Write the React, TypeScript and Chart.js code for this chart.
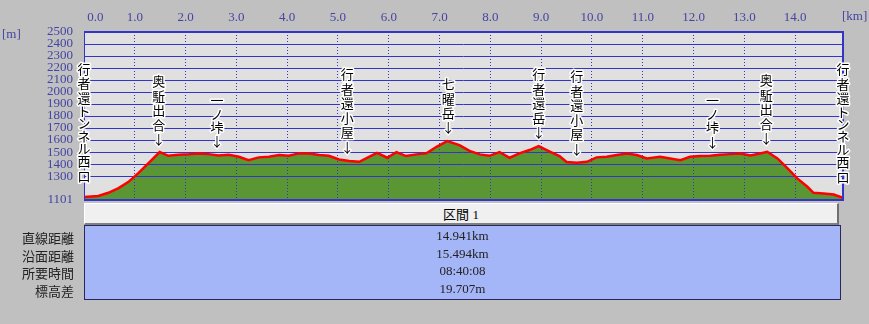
import React, { useEffect, useRef } from 'react';
import { Chart, registerables } from 'chart.js';

// ---------- data ----------
const distanceKm = [0.0, 0.28, 0.48, 0.68, 0.87, 1.07, 1.27, 1.49, 1.66, 1.86, 2.06, 2.26, 2.45, 2.65, 2.85, 3.05, 3.24, 3.44, 3.64, 3.84, 4.03, 4.23, 4.43, 4.63, 4.82, 5.02, 5.22, 5.42, 5.61, 5.77, 5.97, 6.15, 6.34, 6.54, 6.74, 6.94, 7.15, 7.39, 7.59, 7.79, 7.98, 8.18, 8.38, 8.57, 8.77, 8.95, 9.17, 9.36, 9.50, 9.70, 9.90, 10.09, 10.29, 10.49, 10.69, 10.88, 11.08, 11.34, 11.54, 11.74, 11.93, 12.13, 12.33, 12.52, 12.72, 12.92, 13.12, 13.31, 13.45, 13.65, 13.85, 14.04, 14.24, 14.36, 14.56, 14.76, 14.941];
const elevationM = [1125, 1135, 1161, 1200, 1250, 1325, 1408, 1500, 1469, 1477, 1481, 1489, 1483, 1472, 1477, 1461, 1433, 1456, 1461, 1475, 1469, 1489, 1489, 1475, 1469, 1439, 1425, 1419, 1461, 1494, 1453, 1500, 1467, 1481, 1489, 1544, 1592, 1558, 1510, 1481, 1469, 1500, 1453, 1489, 1517, 1550, 1503, 1467, 1417, 1411, 1419, 1456, 1461, 1475, 1489, 1475, 1447, 1461, 1447, 1433, 1461, 1467, 1469, 1477, 1483, 1489, 1472, 1489, 1503, 1447, 1364, 1281, 1211, 1161, 1155, 1147, 1119];

const xTickValues = [0, 1, 2, 3, 4, 5, 6, 7, 8, 9, 10, 11, 12, 13, 14];
const yTickValues = [1101, 1300, 1400, 1500, 1600, 1700, 1800, 1900, 2000, 2100, 2200, 2300, 2400, 2500];
const xMin = 0;
const xMax = 14.941;
const yMin = 1101;
const yMax = 2500;

const waypointNames = ['行者還トンネル西口', '奥駈出合', '一ノ垰', '行者還小屋', '七曜岳', '行者還岳', '行者還小屋', '一ノ垰', '奥駈出合', '行者還トンネル西口'];
const waypointKm = [0, 1.47, 2.62, 5.18, 7.17, 8.95, 9.7, 12.37, 13.43, 14.941];

const sectionTitle = '区間 1';
const summaryLabels = ['直線距離', '沿面距離', '所要時間', '標高差'];
const summaryValues = ['14.941km', '15.494km', '08:40:08', '19.707m'];

// ---------- styles ----------
const BLUE = '#3434c8';
const TICK_BLUE = '#4444a4';
const SERIF = '"Liberation Serif", "DejaVu Serif", serif';
const CJK = '"Noto Sans CJK JP", "Noto Sans", sans-serif';

function elevAt(km: number): number {
  for (let i = 0; i < distanceKm.length - 1; i++) {
    if (km >= distanceKm[i] && km <= distanceKm[i + 1]) {
      const t = (km - distanceKm[i]) / (distanceKm[i + 1] - distanceKm[i] || 1);
      return elevationM[i] + t * (elevationM[i + 1] - elevationM[i]);
    }
  }
  return km <= distanceKm[0] ? elevationM[0] : elevationM[elevationM.length - 1];
}

const plotBgPlugin = {
  id: 'plotBg',
  beforeDraw(chart: any) {
    const { ctx, chartArea } = chart;
    if (!chartArea) return;
    ctx.save();
    ctx.fillStyle = '#e0e0e0';
    ctx.fillRect(chartArea.left, chartArea.top, chartArea.right - chartArea.left, chartArea.bottom - chartArea.top);
    ctx.restore();
  },
};

// register background first so it paints before the filler's beforeDraw fill
Chart.register(plotBgPlugin);
Chart.register(...registerables);

const frameAndLabelsPlugin = {
  id: 'frameAndLabels',
  afterDraw(chart: any) {
    const { ctx, chartArea, scales } = chart;
    const x = scales.x;
    const y = scales.y;
    ctx.save();
    // frame
    ctx.strokeStyle = BLUE;
    ctx.lineWidth = 2;
    ctx.beginPath();
    ctx.moveTo(chartArea.left, chartArea.top);
    ctx.lineTo(chartArea.right, chartArea.top);
    ctx.lineTo(chartArea.right, chartArea.bottom);
    ctx.lineTo(chartArea.left, chartArea.bottom);
    ctx.stroke();
    ctx.lineWidth = 1;
    ctx.beginPath();
    ctx.moveTo(chartArea.left + 0.5, chartArea.top);
    ctx.lineTo(chartArea.left + 0.5, chartArea.bottom);
    ctx.stroke();

    // waypoint labels (vertical text)
    ctx.font = '13px ' + CJK;
    ctx.textAlign = 'center';
    ctx.textBaseline = 'middle';
    ctx.lineJoin = 'round';
    const last = waypointNames.length - 1;
    waypointNames.forEach((name, i) => {
      const km = waypointKm[i];
      const px = x.getPixelForValue(km);
      const py = y.getPixelForValue(elevAt(km));
      const edge = i === 0 || i === last;
      const chars = edge ? Array.from(name) : [...Array.from(name), '↓'];
      const steps = chars.map((c) => (c === '↓' ? 14 : /[\u30A0-\u30FF]/.test(c) ? 12.3 : 14.5));
      let bottom = py - (edge ? 14 : 7);
      for (let k = chars.length - 1; k >= 0; k--) {
        const h = steps[k];
        const cy = bottom - h / 2;
        ctx.strokeStyle = '#ffffff';
        ctx.lineWidth = 3;
        ctx.strokeText(chars[k], px, cy);
        ctx.fillStyle = '#000000';
        ctx.fillText(chars[k], px, cy);
        bottom -= h;
      }
    });
    ctx.restore();
  },
};

export default function App() {
  const canvasRef = useRef<HTMLCanvasElement | null>(null);

  useEffect(() => {
    const canvas = canvasRef.current;
    if (!canvas) return;
    const points = distanceKm.map((d, i) => ({ x: d, y: elevationM[i] }));
    const chart = new Chart(canvas, {
      type: 'line',
      data: {
        datasets: [
          {
            data: points,
            borderColor: '#ff0000',
            borderWidth: 2.5,
            backgroundColor: '#5a9634',
            fill: 'start',
            pointRadius: 0,
            tension: 0,
          },
        ],
      },
      options: {
        animation: false,
        responsive: false,
        maintainAspectRatio: false,
        devicePixelRatio: 1,
        layout: { padding: { left: 0, top: 0, right: 26, bottom: 124 } },
        plugins: {
          legend: { display: false },
          tooltip: { enabled: false },
          filler: { drawTime: 'beforeDraw' },
        } as any,
        scales: {
          x: {
            type: 'linear',
            position: 'top',
            min: xMin,
            max: xMax,
            afterBuildTicks: (s: any) => {
              s.ticks = xTickValues.map((v) => ({ value: v }));
            },
            afterFit: (s: any) => {
              s.height = 32;
            },
            grid: { color: BLUE, drawTicks: false, lineWidth: 1 },
            border: { display: false, dash: [1, 2] },
            ticks: {
              padding: 7,
              color: TICK_BLUE,
              font: { family: SERIF, size: 13 },
              maxRotation: 0,
              autoSkip: false,
              callback: (v: any) => (Number(v) === 0 ? '       0.0' : Number(v).toFixed(1)),
            },
          },
          y: {
            type: 'linear',
            min: yMin,
            max: yMax,
            afterBuildTicks: (s: any) => {
              s.ticks = yTickValues.map((v) => ({ value: v }));
            },
            afterFit: (s: any) => {
              s.width = 84;
            },
            grid: { color: BLUE, drawTicks: false, lineWidth: 1 },
            border: { display: false },
            ticks: {
              padding: 11,
              color: TICK_BLUE,
              font: { family: SERIF, size: 13 },
              autoSkip: false,
              callback: (v: any) => String(v),
            },
          },
        },
      },
      plugins: [frameAndLabelsPlugin],
    } as any);
    return () => chart.destroy();
  }, []);

  const rowTop = 228;
  const rowH = 17.5;

  return (
    <div style={{ position: 'absolute', left: 0, top: 0, width: 869, height: 324, background: '#c0c0c0', overflow: 'hidden' }}>
      <canvas ref={canvasRef} width={869} height={324} style={{ position: 'absolute', left: 0, top: 0, width: 869, height: 324 }} />
      <div style={{ position: 'absolute', left: 2, top: 27, font: `13px ${SERIF}`, color: TICK_BLUE, lineHeight: '14px' }}>[m]</div>
      <div style={{ position: 'absolute', left: 842, top: 9, font: `13px ${SERIF}`, color: TICK_BLUE, lineHeight: '14px' }}>[km]</div>
      <div
        style={{
          position: 'absolute', left: 84, top: 203, width: 755, height: 22, boxSizing: 'border-box',
          background: '#f0f0f0', borderTop: '1px solid #ffffff', borderLeft: '1px solid #ffffff',
          borderRight: '2px solid #707070', borderBottom: '2px solid #808080',
          textAlign: 'center', font: `13px ${SERIF}`, lineHeight: '20px', color: '#000',
        }}
      >
        <span style={{ fontFamily: CJK }}>{sectionTitle.split(' ')[0]}</span> {sectionTitle.split(' ')[1]}
      </div>
      <div
        style={{
          position: 'absolute', left: 84, top: 225, width: 757, height: 75, boxSizing: 'border-box',
          background: '#a4b6f8', border: '1px solid #28285a',
        }}
      />
      {summaryLabels.map((lab, i) => (
        <div key={'l' + i} style={{ position: 'absolute', right: 869 - 74, top: rowTop + i * rowH, height: rowH, lineHeight: rowH + 'px', font: `13px ${CJK}`, color: '#222', whiteSpace: 'nowrap' }}>
          {lab}
        </div>
      ))}
      {summaryValues.map((val, i) => (
        <div key={'v' + i} style={{ position: 'absolute', left: 84, width: 757, textAlign: 'center', top: rowTop + i * rowH, height: rowH, lineHeight: rowH + 'px', font: `13px ${SERIF}`, color: '#222' }}>
          {val}
        </div>
      ))}
    </div>
  );
}
